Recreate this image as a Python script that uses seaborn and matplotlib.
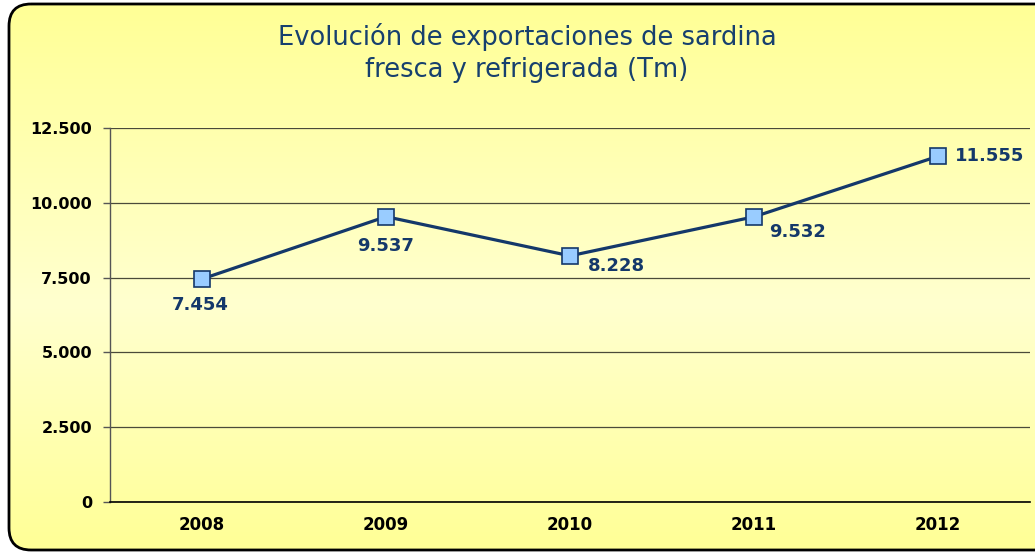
import numpy as np
import matplotlib
matplotlib.use('Agg')
import matplotlib.pyplot as plt
import seaborn as sns
from matplotlib.patches import FancyBboxPatch
from matplotlib.colors import LinearSegmentedColormap

years = ['2008', '2009', '2010', '2011', '2012']
tonnes = [7454, 9537, 8228, 9532, 11555]
value_labels = ['7.454', '9.537', '8.228', '9.532', '11.555']
y_ticks = [0, 2500, 5000, 7500, 10000, 12500]
y_tick_labels = ['0', '2.500', '5.000', '7.500', '10.000', '12.500']
title = 'Evolución de exportaciones de sardina\nfresca y refrigerada (Tm)'

navy = '#14386a'

sns.set_style('white')
plt.rcParams['font.family'] = ['DejaVu Sans']

fig = plt.figure(figsize=(10.35, 5.53), dpi=100)

# background: white page, yellow gradient card with rounded border
bg = fig.add_axes([0, 0, 1, 1], zorder=0)
bg.set_xlim(0, 1035)
bg.set_ylim(553, 0)
bg.axis('off')
cmap = LinearSegmentedColormap.from_list(
    'card', [(0.0, '#ffff96'), (0.55, '#ffffcf'), (1.0, '#ffff96')])
grad = np.linspace(0, 1, 256).reshape(-1, 1)
card = FancyBboxPatch((9, 4), 1060, 546, boxstyle='round,pad=0,rounding_size=22',
                      facecolor='none', edgecolor='black', linewidth=2.0)
bg.add_patch(card)
img = bg.imshow(grad, cmap=cmap, extent=[9, 1069, 550, 4], aspect='auto', zorder=0)
img.set_clip_path(card)

bg.text(527, 53, title, ha='center', va='center', fontsize=18.5,
        color='#17406e', linespacing=1.33)

ax = fig.add_axes([110 / 1035, 51 / 553, 920 / 1035, 374 / 553], zorder=1)
ax.patch.set_alpha(0)

x = np.arange(len(years))
sns.lineplot(x=x, y=tonnes, ax=ax, color=navy, linewidth=2.3, marker='s',
             markersize=11, markerfacecolor='#99ccff', markeredgecolor=navy,
             markeredgewidth=1.2, zorder=5)

ax.set_xlim(-0.5, len(years) - 0.5)
ax.set_ylim(0, 12500)
ax.set_yticks(y_ticks)
ax.set_yticklabels(y_tick_labels, fontsize=11.5, fontweight='bold', color='black')
ax.set_xticks(x)
ax.set_xticklabels(years, fontsize=12, fontweight='bold', color='black')
ax.set_xticks(np.arange(-0.5, len(years)), minor=True)
ax.tick_params(axis='x', which='major', length=0, pad=10)
ax.tick_params(axis='x', which='minor', length=5, color='#555555', width=1)
ax.tick_params(axis='y', length=5, color='#555555', width=1, pad=8, left=True)
ax.grid(axis='y', color='#4a4a3a', linewidth=0.9)
ax.set_axisbelow(True)
for s in ['top', 'right']:
    ax.spines[s].set_visible(False)
ax.spines['left'].set_color('#555555')
ax.spines['left'].set_linewidth(1)
ax.spines['bottom'].set_color('black')
ax.spines['bottom'].set_linewidth(1.2)
ax.set_xlabel('')
ax.set_ylabel('')

# label offsets in points
offsets = [(-1, -19, 'center'), (0, -21, 'center'), (13, -7, 'left'),
           (11, -11, 'left'), (12, 0, 'left')]
for xi, yi, lab, (dx, dy, ha) in zip(x, tonnes, value_labels, offsets):
    ax.annotate(lab, (xi, yi), xytext=(dx, dy), textcoords='offset points',
                ha=ha, va='center', fontsize=13, fontweight='bold', color=navy,
                zorder=6)

fig.savefig('out.png', dpi=100)
